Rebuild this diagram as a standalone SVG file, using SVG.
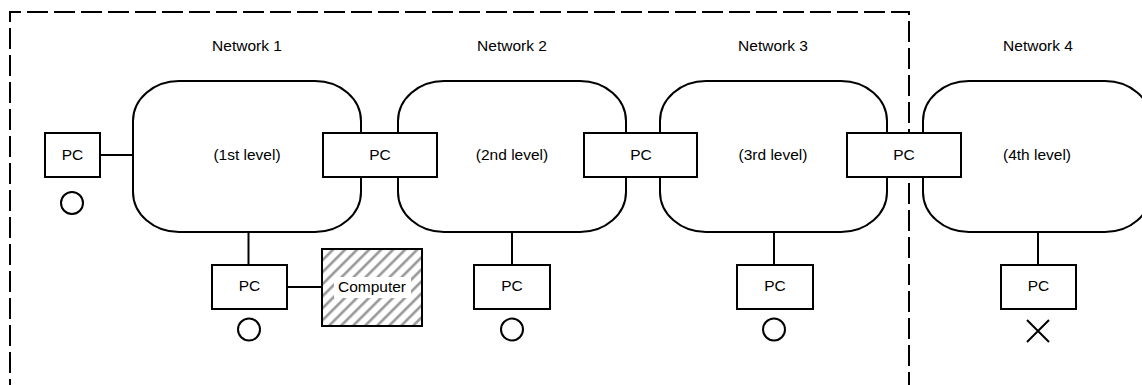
<svg xmlns="http://www.w3.org/2000/svg" width="1142" height="385" viewBox="0 0 1142 385">
  <style>
    .t { font-family: "Liberation Sans", Arial, sans-serif; font-size: 15.5px; fill: #000; text-anchor: middle; }
    .cloud { fill: #fff; stroke: #000; stroke-width: 2; }
    .box { fill: #fff; stroke: #000; stroke-width: 2; }
    .ln { fill: none; stroke: #000; stroke-width: 2; }
    .mark { fill: none; stroke: #000; stroke-width: 2; }
  </style>
  <defs>
    <pattern id="hatch" patternUnits="userSpaceOnUse" width="8.5" height="8.5" patternTransform="rotate(45)">
      <rect width="8.5" height="8.5" fill="#fff"/>
      <line x1="4" y1="0" x2="4" y2="8.5" stroke="#999" stroke-width="2.6"/>
    </pattern>
  </defs>
  <rect width="1142" height="385" fill="#fff"/>

  <g id="boundary">
    <path d="M10 400 V12 H909 V400" fill="none" stroke="#000" stroke-width="2" stroke-dasharray="21 6"/>
  </g>

  <g id="net1">
    <rect class="cloud" x="133" y="81" width="228" height="151" rx="46" ry="40"/>
    <text class="t" x="247" y="51">Network 1</text>
    <text class="t" x="247" y="160">(1st level)</text>
  </g>
  <g id="net2">
    <rect class="cloud" x="398" y="81" width="228" height="151" rx="46" ry="40"/>
    <text class="t" x="512" y="51">Network 2</text>
    <text class="t" x="512" y="160">(2nd level)</text>
  </g>
  <g id="net3">
    <rect class="cloud" x="660" y="81" width="227" height="151" rx="46" ry="40"/>
    <text class="t" x="773" y="51">Network 3</text>
    <text class="t" x="773" y="160">(3rd level)</text>
  </g>
  <g id="net4">
    <rect class="cloud" x="923" y="81" width="228" height="151" rx="46" ry="40"/>
    <text class="t" x="1038" y="51">Network 4</text>
    <text class="t" x="1037" y="160">(4th level)</text>
  </g>

  <g id="connectors">
    <line class="ln" x1="100" y1="155" x2="133" y2="155"/>
    <line class="ln" x1="248.5" y1="232" x2="248.5" y2="265"/>
    <line class="ln" x1="512" y1="232" x2="512" y2="265"/>
    <line class="ln" x1="774" y1="232" x2="774" y2="265"/>
    <line class="ln" x1="1038" y1="232" x2="1038" y2="265"/>
    <line class="ln" x1="287" y1="287" x2="322" y2="287"/>
  </g>

  <g id="pc-left">
    <rect class="box" x="45" y="133" width="55" height="44"/>
    <text class="t" x="72.5" y="160">PC</text>
    <circle class="mark" cx="72" cy="203" r="11"/>
  </g>
  <g id="pc-1-2">
    <rect class="box" x="323" y="133" width="114" height="44"/>
    <text class="t" x="380" y="160">PC</text>
  </g>
  <g id="pc-2-3">
    <rect class="box" x="584" y="133" width="113" height="44"/>
    <text class="t" x="641" y="160">PC</text>
  </g>
  <g id="pc-3-4">
    <rect class="box" x="847" y="133" width="114" height="44"/>
    <text class="t" x="904" y="160">PC</text>
  </g>
  <g id="pc-net1">
    <rect class="box" x="212" y="265" width="75" height="44"/>
    <text class="t" x="249.5" y="291">PC</text>
    <circle class="mark" cx="249" cy="329.5" r="11"/>
  </g>
  <g id="computer">
    <rect x="322" y="249" width="100" height="77" fill="url(#hatch)" stroke="#000" stroke-width="2"/>
    <rect x="334" y="277" width="77" height="21" fill="#fff"/>
    <text class="t" x="372" y="292">Computer</text>
  </g>
  <g id="pc-net2">
    <rect class="box" x="474" y="265" width="76" height="44"/>
    <text class="t" x="512" y="291">PC</text>
    <circle class="mark" cx="512" cy="329.5" r="11"/>
  </g>
  <g id="pc-net3">
    <rect class="box" x="737" y="265" width="76" height="44"/>
    <text class="t" x="775" y="291">PC</text>
    <circle class="mark" cx="774" cy="329.5" r="11"/>
  </g>
  <g id="pc-net4">
    <rect class="box" x="1001" y="265" width="75" height="44"/>
    <text class="t" x="1038.5" y="291">PC</text>
    <path class="mark" d="M1027 320 L1049 342 M1049 320 L1027 342"/>
  </g>
</svg>
